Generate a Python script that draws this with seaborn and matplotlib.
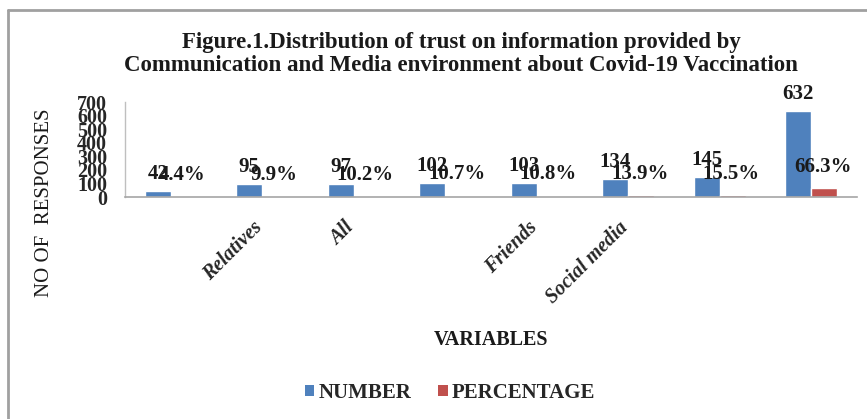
import matplotlib
matplotlib.use("Agg")
import matplotlib.pyplot as plt
from matplotlib.lines import Line2D
from matplotlib.patches import Patch
from matplotlib.transforms import ScaledTranslation
import seaborn as sns
import pandas as pd

# Trust in information sources about Covid-19 vaccination
tick_labels = ["", "Relatives", "All", "", "Friends", "Social media", "", ""]
numbers = [42, 95, 97, 102, 103, 134, 145, 632]
percentages = [4.4, 9.9, 10.2, 10.7, 10.8, 13.9, 15.5, 66.3]
series_names = ["NUMBER", "PERCENTAGE"]
y_ticks = [0, 100, 200, 300, 400, 500, 600, 700]

BLUE = "#4F81BD"
RED = "#C0504D"
SERIF = "Liberation Serif"

slots = list(range(len(numbers)))
df = pd.DataFrame({
    "slot": slots * 2,
    "value": numbers + percentages,
    "series": [series_names[0]] * len(numbers) + [series_names[1]] * len(percentages),
})

sns.set_theme(style="white")
plt.rcParams["font.family"] = [SERIF, "DejaVu Serif"]

fig = plt.figure(figsize=(8.67, 4.19), dpi=100)
ax = fig.add_axes([125 / 867, 1 - 197 / 419, 732 / 867, 95 / 419])

sns.barplot(data=df, x="slot", y="value", hue="series", palette=[BLUE, RED],
            width=0.57, saturation=1, ax=ax, legend=False)

ax.set_xlim(-0.5, len(numbers) - 0.5)
ax.set_ylim(0, 700)
ax.set_yticks(y_ticks)
ax.set_yticklabels([str(t) for t in y_ticks], fontsize=14.5, fontweight="bold",
                   family=SERIF)
ax.tick_params(axis="y", pad=13, length=0)
ax.set_xticks(slots)
ax.set_xticklabels(tick_labels, rotation=45, ha="right", rotation_mode="anchor",
                   fontsize=14.5, fontweight="bold", fontstyle="italic", family=SERIF)
ax.tick_params(axis="x", length=0, pad=15)
# nudge the slanted category names a little to the left
shift = ScaledTranslation(-7 / 72, 0, fig.dpi_scale_trans)
for lbl in ax.get_xticklabels():
    lbl.set_transform(lbl.get_transform() + shift)

for side in ("top", "right"):
    ax.spines[side].set_visible(False)
ax.spines["left"].set_color("#BFBFBF")
ax.spines["bottom"].set_color("#A6A6A6")
ax.spines["left"].set_linewidth(1.0)
ax.spines["bottom"].set_linewidth(1.2)

ax.set_xlabel("")
ax.set_ylabel("")

# value labels above the bars
num_bars, pct_bars = ax.containers[0], ax.containers[1]
for bar, v in zip(num_bars, numbers):
    ax.annotate(f"{v}", (bar.get_x() + bar.get_width() / 2, bar.get_height()),
                xytext=(0, 5), textcoords="offset points", ha="center", va="bottom",
                fontsize=15, fontweight="bold", family=SERIF, color="#1A1A1A")
for bar, v in zip(pct_bars, percentages):
    ax.annotate(f"{v}%", (bar.get_x() + bar.get_width() / 2, bar.get_height()),
                xytext=(-1, 8), textcoords="offset points", ha="center", va="bottom",
                fontsize=15, fontweight="bold", family=SERIF, color="#1A1A1A")

fig.text(461 / 867, 1 - 54 / 419,
         "Figure.1.Distribution of trust on information provided by\n"
         "Communication and Media environment about Covid-19 Vaccination",
         ha="center", va="center", fontsize=16.5, fontweight="bold", family=SERIF,
         linespacing=1.08, color="#1A1A1A")

fig.text(45 / 867, 1 - 203 / 419, "NO OF  RESPONSES", rotation=90,
         ha="center", va="center", fontsize=15, family=SERIF, color="#1A1A1A")
fig.text(491 / 867, 1 - 340 / 419, "VARIABLES", ha="center", va="center",
         fontsize=14.5, fontweight="bold", family=SERIF, color="#1A1A1A")

handles = [Patch(facecolor=BLUE, edgecolor="none"), Patch(facecolor=RED, edgecolor="none")]
fig.legend(handles, series_names, loc="center", bbox_to_anchor=(450 / 867, 1 - 393 / 419),
           ncol=2, frameon=False, handlelength=0.45, handleheight=0.45, handletextpad=0.2,
           columnspacing=1.3, prop={"family": SERIF, "weight": "bold", "size": 15})

# chart area border
fig.add_artist(Line2D([8 / 867, 1.0], [1 - 10 / 419] * 2, color="#A0A0A0", lw=2))
fig.add_artist(Line2D([8 / 867] * 2, [0.0, 1 - 10 / 419], color="#A0A0A0", lw=2))

fig.savefig("out.png", dpi=100)
